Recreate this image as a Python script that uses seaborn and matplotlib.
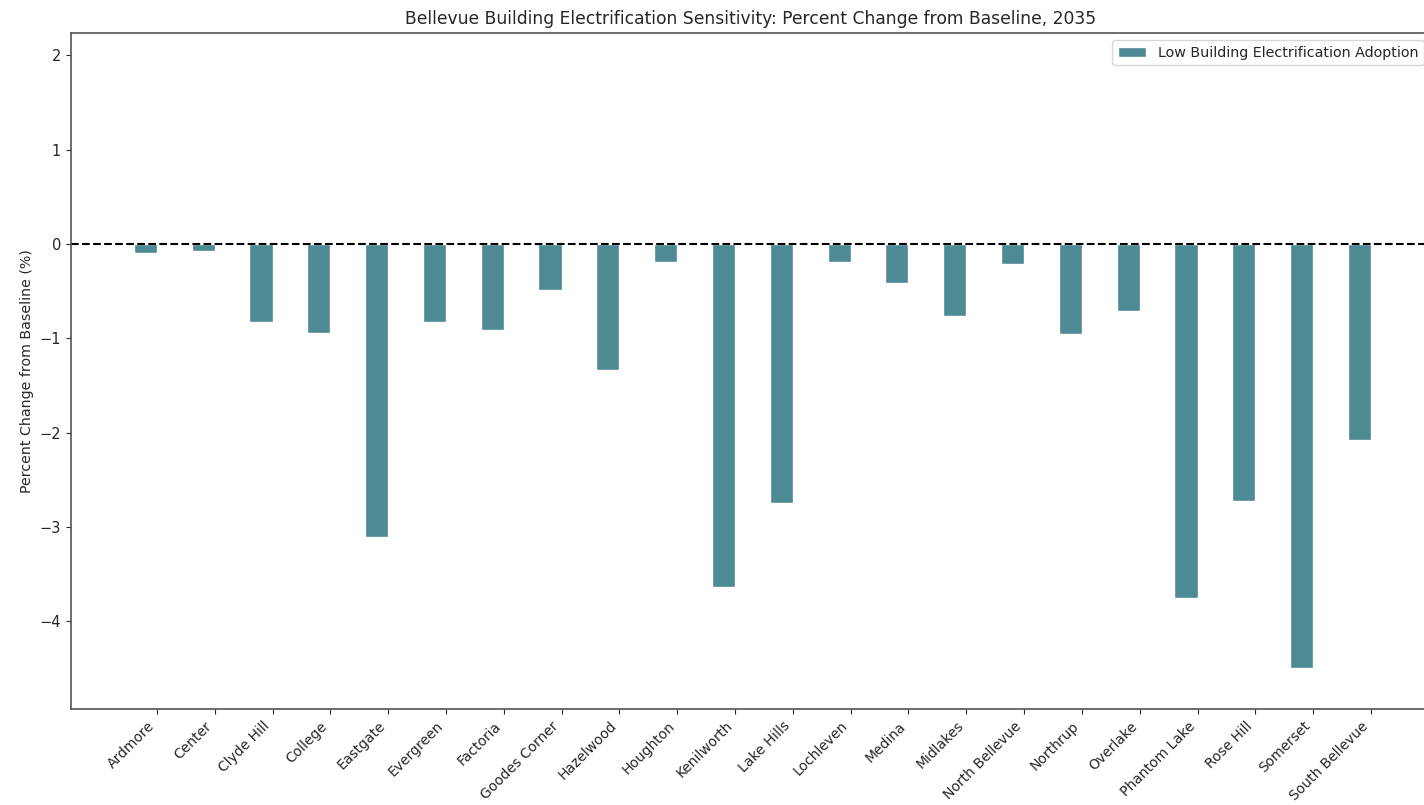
import matplotlib
matplotlib.use("Agg")
import matplotlib.pyplot as plt
import seaborn as sns
import pandas as pd
from matplotlib.patches import Patch

neighborhoods = [
    "Ardmore", "Center", "Clyde Hill", "College", "Eastgate", "Evergreen",
    "Factoria", "Goodes Corner", "Hazelwood", "Houghton", "Kenilworth",
    "Lake Hills", "Lochleven", "Medina", "Midlakes", "North Bellevue",
    "Northrup", "Overlake", "Phantom Lake", "Rose Hill", "Somerset",
    "South Bellevue",
]
low_adoption_pct = [
    -0.10, -0.07, -0.83, -0.94, -3.10, -0.83,
    -0.91, -0.49, -1.34, -0.19, -3.64,
    -2.74, -0.19, -0.41, -0.76, -0.21,
    -0.95, -0.71, -3.75, -2.72, -4.49,
    -2.08,
]
scenarios = ["Low Building Electrification Adoption",
             "High Building Electrification Adoption"]
bar_color = "#4d8a93"

df = pd.DataFrame({
    "Neighborhood": neighborhoods,
    "Change": low_adoption_pct,
    "Scenario": scenarios[0],
})

sns.set_style("ticks")
plt.rcParams["font.family"] = ["DejaVu Sans"]

fig = plt.figure(figsize=(14.24, 8.05), dpi=100)
ax = fig.add_axes([0.0497, 0.119, 0.9553, 0.8404])

# two dodge slots per neighborhood; only the low-adoption scenario has data
sns.barplot(
    data=df, x="Neighborhood", y="Change", hue="Scenario",
    hue_order=scenarios, order=neighborhoods, dodge=True,
    palette={scenarios[0]: bar_color, scenarios[1]: "#c47a4f"},
    saturation=1, width=0.8, errorbar=None, ax=ax, legend=False,
)

ax.axhline(0, color="black", linestyle="--", linewidth=1.5)
ax.set_xlim(-1.49, 22.04)
ax.set_ylim(-4.93, 2.24)
ax.set_yticks([-4, -3, -2, -1, 0, 1, 2])
ax.set_yticklabels(["\u22124", "\u22123", "\u22122", "\u22121", "0", "1", "2"])

ax.set_xlabel("")
ax.set_ylabel("Percent Change from Baseline (%)", fontsize=10.2)
ax.set_title(
    "Bellevue Building Electrification Sensitivity: Percent Change from Baseline, 2035",
    fontsize=12.3,
)
plt.setp(ax.get_xticklabels(), rotation=45, ha="right", fontsize=10)
ax.tick_params(axis="y", labelsize=10.5)

for side in ["left", "bottom", "top", "right"]:
    ax.spines[side].set_visible(True)
    ax.spines[side].set_color("#555555")
    ax.spines[side].set_linewidth(1.2)

ax.legend(
    handles=[Patch(facecolor=bar_color, label=scenarios[0])],
    loc="upper right", fontsize=10.3, frameon=True,
)

fig.savefig("out.png", dpi=100)
